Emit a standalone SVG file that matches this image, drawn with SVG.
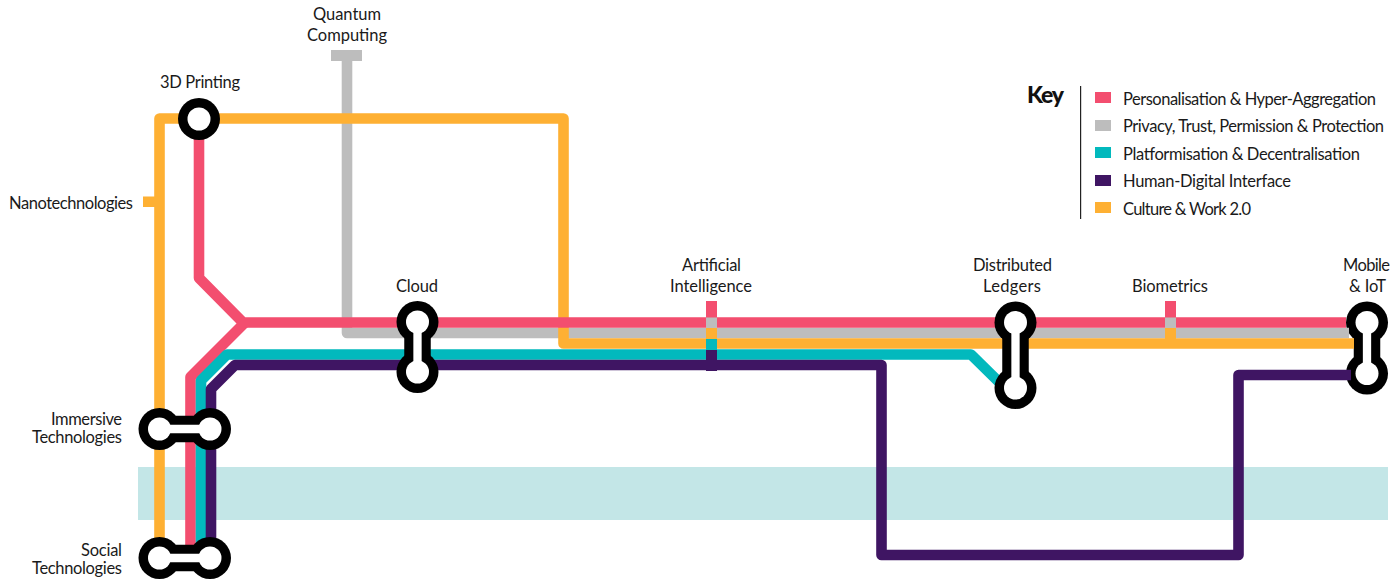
<svg xmlns="http://www.w3.org/2000/svg" width="1398" height="579" viewBox="0 0 1398 579">
<style>
text{font-family:"Lato","Noto Sans","Liberation Sans",sans-serif;font-size:16.5px;fill:#1a1a1a}
.key{font-size:23px;font-weight:900;fill:#111}
.ln{fill:none;stroke-width:10.6;stroke-linejoin:round}
.o{stroke:#feb033}.g{stroke:#bdbdbd}.p{stroke:#f34e6f}.t{stroke:#02b9bd}.v{stroke:#3f1563}
.fp{fill:#f34e6f}.fg{fill:#bdbdbd}.ft{fill:#02b9bd}.fv{fill:#3f1563}.fo{fill:#feb033}
.bs{stroke:#000;stroke-width:26.5;fill:none}
.ws{stroke:#fff;stroke-width:8.3;fill:none}
.br{fill:#000}.wr{fill:#fff}
</style>
<rect x="138" y="467" width="1250" height="53" fill="#c3e6e7"/>
<g id="mobile-iot">
<path class="bs" d="M1367 322.500V373.500"/><circle class="br" cx="1367" cy="322.500" r="21"/><circle class="br" cx="1367" cy="373.500" r="21"/>
<path class="ws" d="M1367 322.500V373.500"/><circle class="wr" cx="1367" cy="322.500" r="11.500"/><circle class="wr" cx="1367" cy="373.500" r="11.500"/>
<text x="1343" y="271" textLength="47">Mobile</text><text x="1349" y="292" textLength="37">&amp; IoT</text>
</g>
<g id="connectors">
<path class="ln g" d="M347 50V333H1349"/>
<rect class="fg" x="331" y="50" width="31" height="11"/>
<path class="ln o" d="M159.500 545V118.500H563.500V343.500H1354"/>
<rect class="fo" x="143" y="196.500" width="17" height="10.500"/>
<path class="ln p" d="M199 119V278L243 322.500H1346"/>
<path class="ln p" d="M190.500 548V377L245 322.500"/>
<path class="ln t" d="M201 548V380.500L227 354.500H971L1002 385"/>
<path class="ln v" d="M211 548V389L235 365H881.500V555H1238.500V375H1351"/>
<g id="tick-ai">
<rect class="fp" x="706" y="301" width="11" height="17"/><rect class="fg" x="706" y="317.500" width="11" height="11"/><rect class="fo" x="706" y="328" width="11" height="11"/><rect class="ft" x="706" y="339" width="11" height="11"/><rect class="fv" x="706" y="350" width="11" height="21"/>
</g>
<g id="tick-biometrics">
<rect class="fp" x="1165" y="301" width="11" height="17"/><rect class="fg" x="1165" y="317.500" width="11" height="11"/><rect class="fo" x="1165" y="328" width="11" height="11"/>
</g>
</g>
<g id="quantum-computing"><text x="313" y="20" textLength="68">Quantum</text><text x="307" y="41" textLength="80">Computing</text></g>
<g id="nanotechnologies"><text x="9" y="209" textLength="124">Nanotechnologies</text></g>
<g id="printing-3d">
<circle class="br" cx="199" cy="119" r="21"/><circle class="wr" cx="199" cy="119" r="11.500"/>
<text x="160" y="88" textLength="80">3D Printing</text>
</g>
<g id="cloud">
<path class="bs" d="M417.500 322V372"/><circle class="br" cx="417.500" cy="322" r="21"/><circle class="br" cx="417.500" cy="372" r="21"/>
<path class="ws" d="M417.500 322V372"/><circle class="wr" cx="417.500" cy="322" r="11.500"/><circle class="wr" cx="417.500" cy="372" r="11.500"/>
<text x="396" y="292" textLength="42">Cloud</text>
</g>
<g id="artificial-intelligence"><text x="682" y="271" textLength="59">Artificial</text><text x="670" y="292" textLength="82">Intelligence</text></g>
<g id="distributed-ledgers">
<path class="bs" d="M1015.500 322.500V388"/><circle class="br" cx="1015.500" cy="322.500" r="21"/><circle class="br" cx="1015.500" cy="388" r="21"/>
<path class="ws" d="M1015.500 322.500V388"/><circle class="wr" cx="1015.500" cy="322.500" r="11.500"/><circle class="wr" cx="1015.500" cy="388" r="11.500"/>
<text x="973" y="271" textLength="79">Distributed</text><text x="983" y="292" textLength="58">Ledgers</text>
</g>
<g id="biometrics"><text x="1132" y="292" textLength="76">Biometrics</text></g>
<g id="immersive-technologies">
<path class="bs" d="M159.500 429H210"/><circle class="br" cx="159.500" cy="429" r="21"/><circle class="br" cx="210" cy="429" r="21"/>
<path class="ws" d="M159.500 429H210"/><circle class="wr" cx="159.500" cy="429" r="11.500"/><circle class="wr" cx="210" cy="429" r="11.500"/>
<text x="51" y="425" textLength="71">Immersive</text><text x="32" y="443" textLength="90">Technologies</text>
</g>
<g id="social-technologies">
<path class="bs" d="M159.500 558H210"/><circle class="br" cx="159.500" cy="558" r="21"/><circle class="br" cx="210" cy="558" r="21"/>
<path class="ws" d="M159.500 558H210"/><circle class="wr" cx="159.500" cy="558" r="11.500"/><circle class="wr" cx="210" cy="558" r="11.500"/>
<text x="81" y="556" textLength="41">Social</text><text x="32" y="574" textLength="90">Technologies</text>
</g>
<g id="key">
<text class="key" x="1027" y="103" textLength="37">Key</text>
<rect x="1080" y="86" width="1.200" height="133" fill="#222"/>
<rect class="fp" x="1095" y="92" width="16" height="11"/><text x="1123" y="105" textLength="253">Personalisation &amp; Hyper-Aggregation</text>
<rect class="fg" x="1095" y="120" width="16" height="11"/><text x="1123" y="132" textLength="261">Privacy, Trust, Permission &amp; Protection</text>
<rect class="ft" x="1095" y="147" width="16" height="11"/><text x="1123" y="160" textLength="237">Platformisation &amp; Decentralisation</text>
<rect class="fv" x="1095" y="175" width="16" height="11"/><text x="1123" y="187" textLength="168">Human-Digital Interface</text>
<rect class="fo" x="1095" y="202" width="16" height="11"/><text x="1123" y="215" textLength="128">Culture &amp; Work 2.0</text>
</g>
</svg>
